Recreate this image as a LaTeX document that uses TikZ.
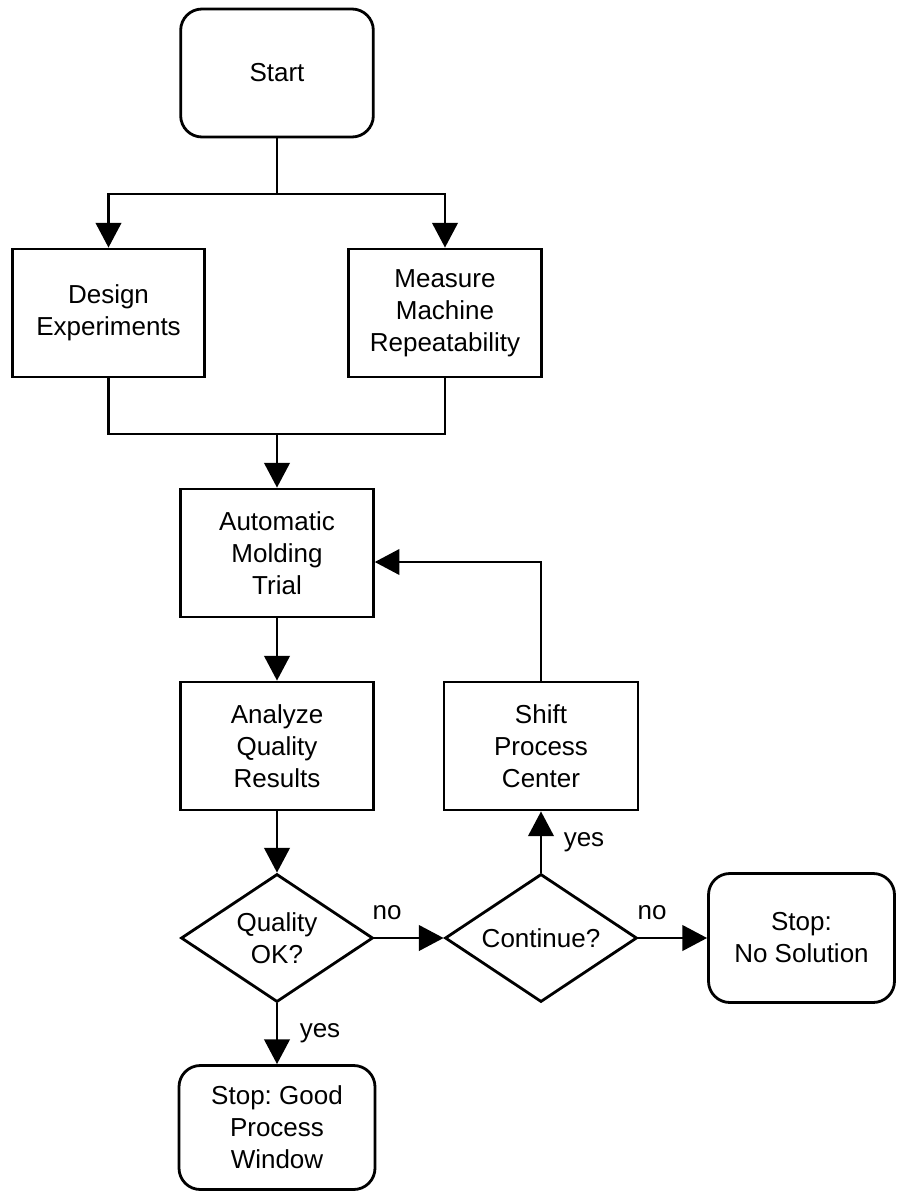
\documentclass[tikz,border=0pt]{standalone}
\usepackage{fontspec}
\setmainfont{Liberation Sans}
\usetikzlibrary{shapes.geometric,arrows.meta}
\frenchspacing

\begin{document}
\begin{tikzpicture}[x=0.75pt,y=0.75pt,yscale=-1,xscale=1,
  every node/.style={font=\fontsize{19.5}{24}\selectfont, align=center},
  procbox/.style={draw, line width=2.1pt, minimum width=144.5pt, minimum height=96pt, inner sep=0pt},
  termbox/.style={procbox, rounded corners=16pt},
  decbox/.style={draw, diamond, line width=2.1pt, minimum width=144pt, minimum height=96pt, inner sep=0pt, aspect=1.5},
  conn/.style={line width=2.1pt},
  arr/.style={conn, -{Triangle[length=18.5pt,width=19pt]}},
  lbl/.style={inner sep=0pt}
]
\useasboundingbox (0,0) rectangle (896,1192);

% Boxes
\node[termbox] (start) at (277,73) {Start};
\node[procbox] (design) at (108.5,313) {Design\\Experiments};
\node[procbox] (measure) at (445,313) {Measure\\Machine\\Repeatability};
\node[procbox] (trial) at (277,553) {Automatic\\Molding\\Trial};
\node[procbox] (analyze) at (277,746) {Analyze\\Quality\\Results};
\node[procbox, minimum width=145.5pt] (shift) at (541,746) {Shift\\Process\\Center};
% Decisions
\node[decbox] (quality) at (277,938) {Quality\\OK?};
\node[decbox] (cont) at (541,938) {Continue?};
% Ends
\node[termbox, minimum width=139.5pt, minimum height=96.75pt] (nosol) at (801.5,938) {Stop:\\No Solution};
\node[termbox, minimum width=147pt, minimum height=93pt] (good) at (277,1127.5) {Stop: Good\\Process\\Window};

% Branch points
\coordinate (split) at (277,194);
\coordinate (join) at (277,434);
\coordinate (back) at (541,562);

% Connectors
\draw[conn] (start.south) -- (split);
\draw[arr] (split) -| (design.north);
\draw[arr] (split) -| (measure.north);
\draw[conn] (design.south) |- (join) -| (measure.south);
\draw[arr] (join) -- (trial.north);
\draw[arr] (trial.south) -- (analyze.north);
\draw[arr] (analyze.south) -- (quality.north);
\draw[arr] (quality.east) -- (cont.west);
\draw[arr] (quality.south) -- (good.north);
\draw[arr] (cont.north) -- (shift.south);
\draw[arr] (cont.east) -- (nosol.west);
\draw[arr] (shift.north) -- (back) -- (back -| trial.east);

% Text Node
\node[lbl] (no1) at (387,913) {no};
\node[lbl] (no2) at (652,913) {no};
\node[lbl] (yes1) at (320,1033) {yes};
\node[lbl] (yes2) at (584,842) {yes};

\end{tikzpicture}
\end{document}
